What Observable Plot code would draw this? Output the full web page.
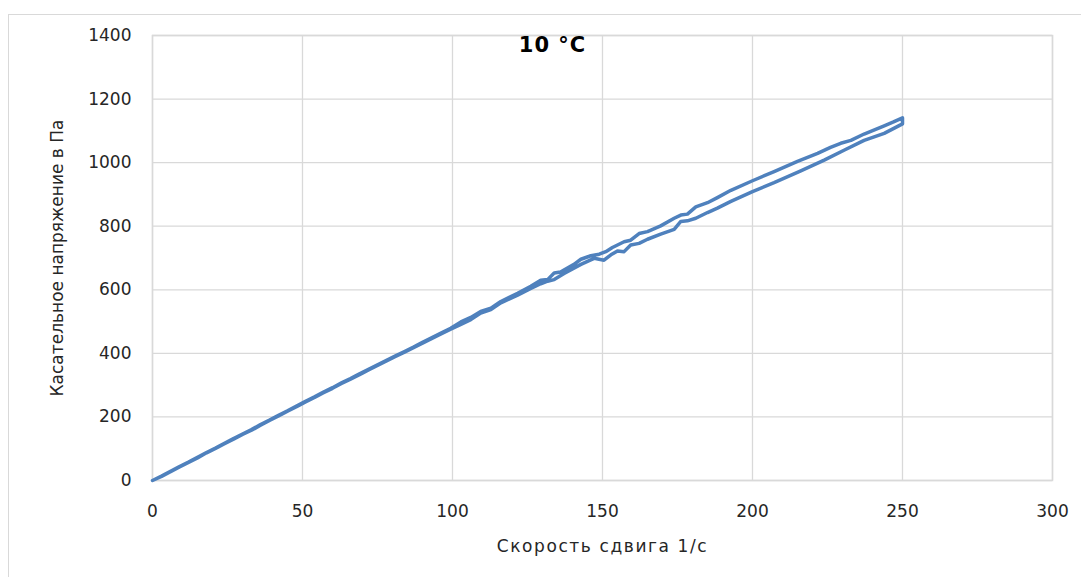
<!DOCTYPE html>
<html><head><meta charset="utf-8">
<script src="https://cdn.jsdelivr.net/npm/d3@7"></script>
<script src="https://cdn.jsdelivr.net/npm/@observablehq/plot@0.6"></script>
<style>
body{margin:0;background:#fff;overflow:hidden;width:1081px;height:577px;position:relative;font-family:"DejaVu Sans",sans-serif}
#border{position:absolute;left:8px;top:14px;width:1200px;height:700px;border:1.5px solid #d9d9d9}
#chart{position:absolute;left:0;top:0}
</style></head><body><div id="border"></div><div id="chart"></div>
<script>
// Curve ending higher at 250 1/s
const rateA   = [0,3,6,9,12,15,18,21,24,27,30,33,36,39,42,45,48,51,54,57,60,63,66,69,72,75,78,81,84,87,90,93,96,99.4,102.8,106.1,109.4,112.8,116.1,121.7,126.1,129.4,131.7,133.9,136,140.5,142.8,146.1,148.9,151.1,153.3,157.2,159.4,162.2,165,169.4,173.9,176.1,178.3,181.1,185,188.3,192.8,200,207.2,215,221.7,226,229.4,232.8,237.2,243.9,247,250];
const stressA = [0,14,29,44,58,73,88,102,117,132,146,160,176,190,205,219,234,249,263,278,292,307,321,336,350,364,378,392,406,420,435,449,463,479,499,513,532,542,563,589,611,630,632,653,656,680,696,707,712,720,733,751,756,777,783,801,825,835,838,861,874,890,913,943,972,1004,1029,1048,1061,1070,1090,1116,1128,1141];
// Curve ending lower at 250 1/s
const rateB   = [0,3,6,9,12,15,18,21,24,27,30,33,36,39,42,45,48,51,54,57,60,63,66,69,72,75,78,81,84,87,90,93,96,99.4,102.8,106.1,109.4,112.8,116.1,121.7,126.1,129.4,131.7,133.9,137.2,142.8,147.2,150.5,152.8,155,157.2,159.4,162.2,165,169.4,173.9,176.1,178.3,181.1,185,188.3,192.8,200,207.2,216.1,223.9,230.5,237.2,243.9,250];
const stressB = [0,13,28,43,57,71,87,101,116,130,145,158,174,189,203,218,232,247,261,276,290,305,319,333,348,362,376,390,404,418,432,446,460,476,491,506,527,538,559,583,604,619,627,632,651,680,699,693,710,722,720,741,746,759,775,790,815,817,825,843,857,878,909,937,974,1008,1039,1070,1092,1122];
const xTicks = [0,50,100,150,200,250,300];
const yTicks = [0,200,400,600,800,1000,1200,1400];
const title = "10 °C";
const xLabel = "Скорость сдвига 1/с";
const yLabel = "Касательное напряжение в Па";

const loop = [
  ...rateB.map((r,i)=>({rate:r, stress:stressB[i]})),
  ...rateA.map((r,i)=>({rate:r, stress:stressA[i]})).reverse()
];

const chart = Plot.plot({
  width:1081, height:577,
  marginLeft:152, marginRight:29, marginTop:35, marginBottom:97,
  x:{domain:[0,300]},
  y:{domain:[0,1400]},
  style:{fontFamily:"'DejaVu Sans', sans-serif", fontSize:"17px", color:"#262626", background:"transparent"},
  marks:[
    Plot.gridX(xTicks,{stroke:"#d9d9d9", strokeOpacity:1, strokeWidth:1.3}),
    Plot.gridY(yTicks,{stroke:"#d9d9d9", strokeOpacity:1, strokeWidth:1.3}),
    Plot.frame({stroke:"#d9d9d9", strokeWidth:1.5}),
    Plot.axisX(xTicks,{tickSize:0, tickPadding:24, label:null, fontSize:17, tickFormat:d3.format("d")}),
    Plot.axisY(yTicks,{tickSize:0, tickPadding:21, label:null, fontSize:17, tickFormat:d3.format("d")}),
    Plot.line(loop,{x:"rate", y:"stress", stroke:"#4F81BD", strokeWidth:3.5, strokeLinejoin:"round"}),
    Plot.text([title],{frameAnchor:"top", dx:-50, dy:2, lineAnchor:"top", fontWeight:"bold", fontSize:21, fill:"#000"}),
    Plot.text([xLabel],{frameAnchor:"bottom", dy:71, fontSize:17, fill:"#262626"}),
    Plot.text([yLabel],{frameAnchor:"left", dx:-95, rotate:-90, textAnchor:"middle", fontSize:17, fill:"#262626"})
  ]
});
d3.select(chart).selectAll("text").filter(function(){return this.textContent===xLabel;}).style("letter-spacing","1.6px");
d3.select(chart).selectAll("text").filter(function(){return this.textContent===title;}).style("letter-spacing","1px");
document.getElementById("chart").appendChild(chart);
</script></body></html>
